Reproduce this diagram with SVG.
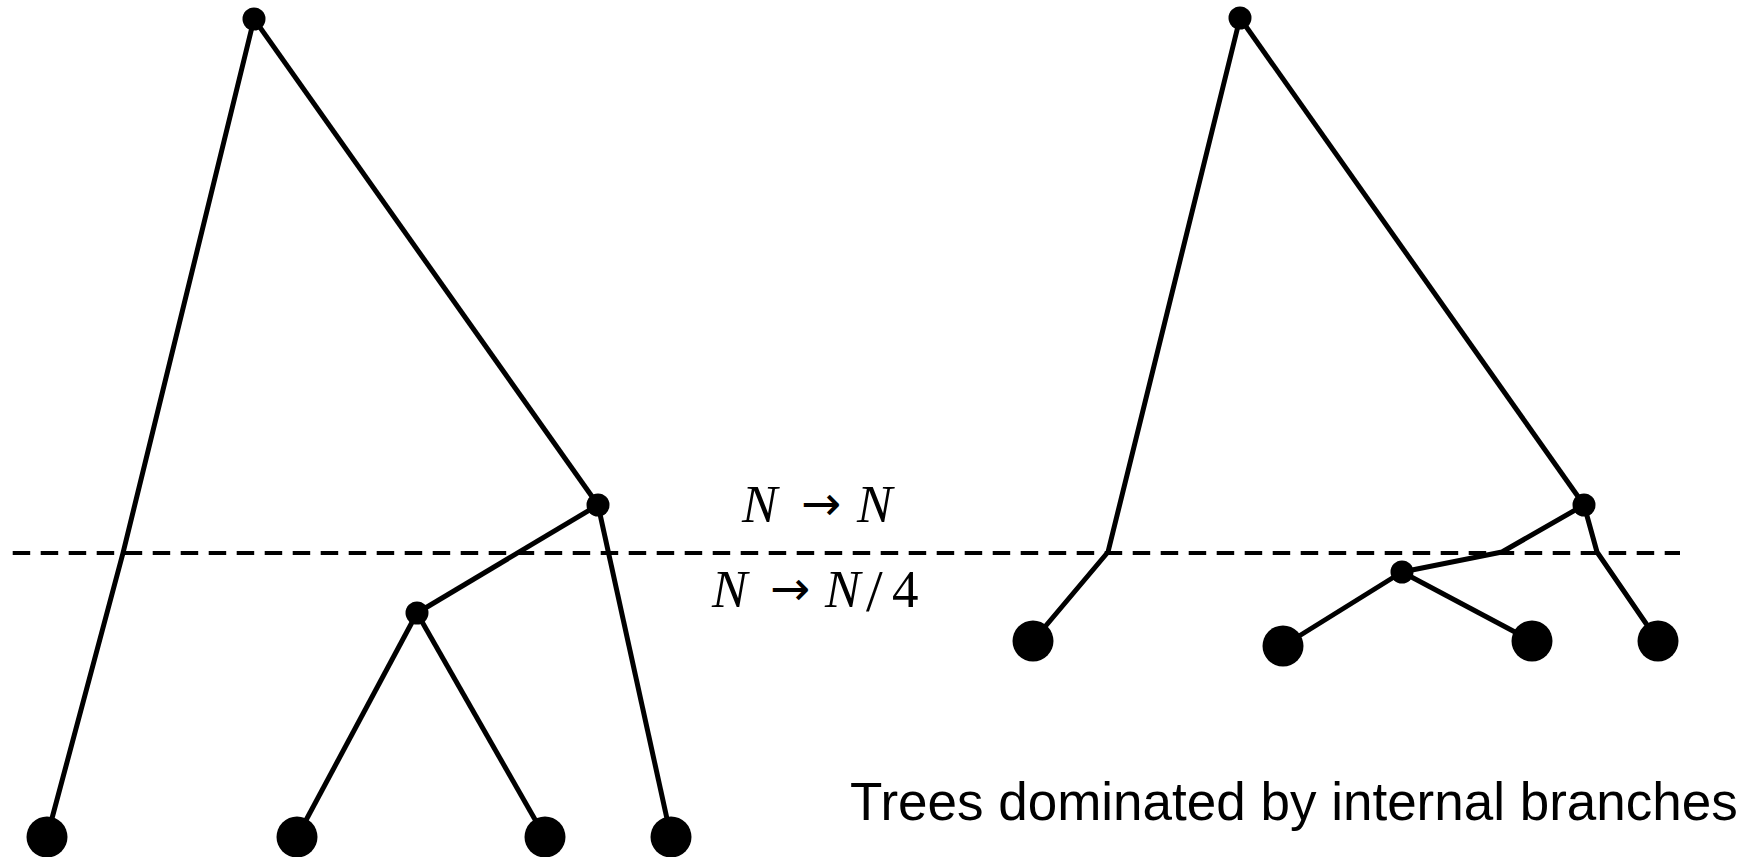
<svg xmlns="http://www.w3.org/2000/svg" width="1760" height="857" viewBox="0 0 1760 857">
<style>
.e{fill:none;stroke:#000;stroke-width:5;stroke-linejoin:round}
.in{fill:#000}
.leaf{fill:#000}
.dash{fill:none;stroke:#000;stroke-width:4;stroke-dasharray:17.5 10.5}
.m{font-family:"Liberation Serif","DejaVu Serif",serif;font-size:53px;fill:#000}
.mi{font-style:italic}
.ar{font-family:"DejaVu Sans",sans-serif;font-size:48px;font-style:normal}
.cap{font-family:"Liberation Sans",Arial,sans-serif;font-size:53px;fill:#000}
</style>
<rect width="1760" height="857" fill="#fff"/>
<line class="dash" x1="12.7" y1="553" x2="1680" y2="553"/>
<g id="connectors">
<polyline class="e" points="254,19 123,553 47,837"/>
<line class="e" x1="254" y1="19" x2="598" y2="505"/>
<line class="e" x1="598" y1="505" x2="417" y2="613"/>
<line class="e" x1="417" y1="613" x2="297" y2="837"/>
<line class="e" x1="417" y1="613" x2="545" y2="837"/>
<line class="e" x1="598" y1="505" x2="671" y2="837"/>
<polyline class="e" points="1240,18 1108,552 1033,641"/>
<line class="e" x1="1240" y1="18" x2="1584" y2="505"/>
<polyline class="e" points="1584,505 1502,552 1402,572"/>
<line class="e" x1="1402" y1="572" x2="1283" y2="646"/>
<line class="e" x1="1402" y1="572" x2="1532" y2="641"/>
<polyline class="e" points="1584,505 1597,552 1658,641"/>
</g>
<g id="left-root"><circle class="in" cx="254" cy="19" r="11.5"/></g>
<g id="left-internal-a"><circle class="in" cx="598" cy="505" r="11.5"/></g>
<g id="left-internal-b"><circle class="in" cx="417" cy="613" r="11.5"/></g>
<g id="left-leaf-1"><circle class="leaf" cx="47" cy="837" r="20.5"/></g>
<g id="left-leaf-2"><circle class="leaf" cx="297" cy="837" r="20.5"/></g>
<g id="left-leaf-3"><circle class="leaf" cx="545" cy="837" r="20.5"/></g>
<g id="left-leaf-4"><circle class="leaf" cx="671" cy="837" r="20.5"/></g>
<g id="right-root"><circle class="in" cx="1240" cy="18" r="11.5"/></g>
<g id="right-internal-a"><circle class="in" cx="1584" cy="505" r="11.5"/></g>
<g id="right-internal-b"><circle class="in" cx="1402" cy="572" r="11.5"/></g>
<g id="right-leaf-1"><circle class="leaf" cx="1033" cy="641" r="20.5"/></g>
<g id="right-leaf-2"><circle class="leaf" cx="1283" cy="646" r="20.5"/></g>
<g id="right-leaf-3"><circle class="leaf" cx="1532" cy="641" r="20.5"/></g>
<g id="right-leaf-4"><circle class="leaf" cx="1658" cy="641" r="20.5"/></g>
<g id="label-above">
<text class="m" y="522"><tspan class="mi" x="742">N</tspan><tspan class="ar" x="801" dy="-2">→</tspan><tspan class="mi" x="857" dy="2">N</tspan></text>
</g>
<g id="label-below">
<text class="m" y="607"><tspan class="mi" x="712">N</tspan><tspan class="ar" x="770" dy="-2">→</tspan><tspan class="mi" x="825" dy="2">N</tspan><tspan x="866" font-size="60" dy="4">/</tspan><tspan x="892" dy="-4">4</tspan></text>
</g>
<g id="caption">
<text class="cap" x="850" y="820">Trees dominated by internal branches</text>
</g>
</svg>
